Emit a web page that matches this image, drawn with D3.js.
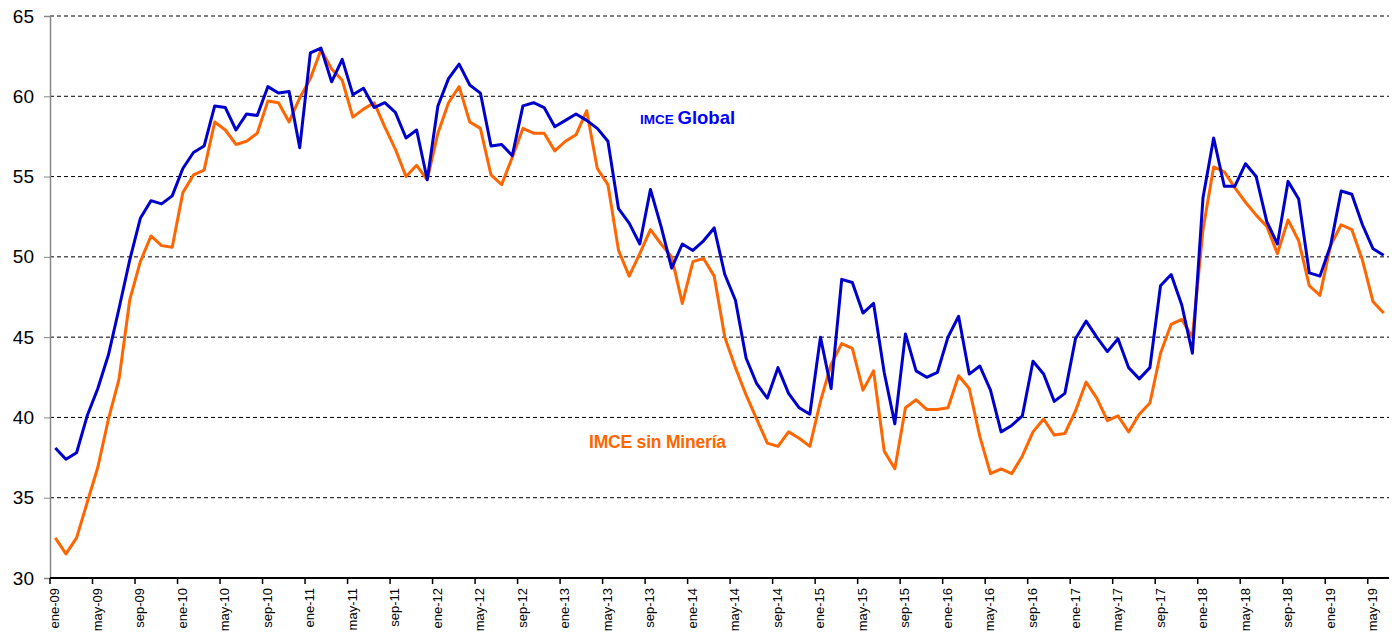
<!DOCTYPE html>
<html>
<head>
<meta charset="utf-8">
<script src="https://cdn.jsdelivr.net/npm/d3@7"></script>
<style>
  body { margin: 0; background: #fff; }
  svg { display: block; font-family: Arial, "Liberation Sans", sans-serif; }
</style>
</head>
<body>
<svg id="chart" width="1396" height="638"></svg>
<script>
// ---- DATA (monthly, ene-09 .. jun-19) ----
const MONTHS = ["ene", "feb", "mar", "abr", "may", "jun", "jul", "ago", "sep", "oct", "nov", "dic"];
const START_YEAR = 2009;
const N_POINTS = 126;

const imceGlobal = [
  38.1, 37.4, 37.8, 40.1, 41.8, 43.9, 46.8, 49.8, 52.4, 53.5, 53.3, 53.8,
  55.5, 56.5, 56.9, 59.4, 59.3, 57.9, 58.9, 58.8, 60.6, 60.2, 60.3, 56.8,
  62.7, 63.0, 60.9, 62.3, 60.1, 60.5, 59.3, 59.6, 59.0, 57.4, 57.9, 54.8,
  59.4, 61.1, 62.0, 60.7, 60.2, 56.9, 57.0, 56.3, 59.4, 59.6, 59.3, 58.1,
  58.5, 58.9, 58.5, 58.0, 57.2, 53.0, 52.1, 50.8, 54.2, 51.9, 49.3, 50.8,
  50.4, 51.0, 51.8, 48.9, 47.3, 43.7, 42.1, 41.2, 43.1, 41.5, 40.6, 40.2,
  45.0, 41.8, 48.6, 48.4, 46.5, 47.1, 42.8, 39.6, 45.2, 42.9, 42.5, 42.8,
  45.0, 46.3, 42.7, 43.2, 41.7, 39.1, 39.5, 40.1, 43.5, 42.7, 41.0, 41.5,
  44.9, 46.0, 45.0, 44.1, 44.9, 43.1, 42.4, 43.1, 48.2, 48.9, 47.0, 44.0,
  53.7, 57.4, 54.4, 54.4, 55.8, 55.0, 52.2, 50.8, 54.7, 53.6, 49.0, 48.8,
  50.7, 54.1, 53.9, 52.0, 50.5, 50.1
];

const imceSinMineria = [
  32.5, 31.5, 32.5, 34.7, 36.9, 39.9, 42.4, 47.3, 49.7, 51.3, 50.7, 50.6,
  54.0, 55.1, 55.4, 58.4, 57.9, 57.0, 57.2, 57.7, 59.7, 59.6, 58.4, 59.9,
  61.1, 62.9, 61.7, 61.0, 58.7, 59.2, 59.6, 58.1, 56.7, 55.0, 55.7, 54.8,
  57.7, 59.6, 60.6, 58.4, 58.0, 55.1, 54.5, 56.2, 58.0, 57.7, 57.7, 56.6,
  57.2, 57.6, 59.1, 55.5, 54.5, 50.4, 48.8, 50.2, 51.7, 50.8, 50.0, 47.1,
  49.7, 49.9, 48.8, 45.0, 43.1, 41.4, 39.9, 38.4, 38.2, 39.1, 38.7, 38.2,
  41.0, 43.3, 44.6, 44.3, 41.7, 42.9, 37.9, 36.8, 40.6, 41.1, 40.5, 40.5,
  40.6, 42.6, 41.8, 38.8, 36.5, 36.8, 36.5, 37.6, 39.1, 39.9, 38.9, 39.0,
  40.4, 42.2, 41.2, 39.8, 40.1, 39.1, 40.2, 40.9, 44.0, 45.8, 46.1, 45.0,
  51.7, 55.6, 55.3, 54.3, 53.4, 52.6, 51.9, 50.2, 52.3, 51.0, 48.2, 47.6,
  50.7, 52.0, 51.7, 49.8, 47.2, 46.5
];

const yTicks = [30, 35, 40, 45, 50, 55, 60, 65];

const labels = d3.range(N_POINTS).map(i => {
  const y = START_YEAR + Math.floor(i / 12);
  return `${MONTHS[i % 12]}-${String(y).slice(2)}`;
});

// ---- LAYOUT ----
const svg = d3.select("#chart");
const margin = { top: 16, right: 7, bottom: 60, left: 50 };
const width = 1396, height = 638;
const innerW = width - margin.left - margin.right;
const innerH = height - margin.top - margin.bottom;

const g = svg.append("g").attr("transform", `translate(${margin.left},${margin.top})`);

const x = d3.scaleBand().domain(labels).range([0, innerW]).padding(0);
const y = d3.scaleLinear().domain([30, 65]).range([innerH, 0]);
const cx = d => x(d) + x.bandwidth() / 2;

// gridlines
g.append("g")
  .selectAll("line")
  .data(yTicks.filter(t => t > 30))
  .join("line")
  .attr("x1", 0).attr("x2", innerW)
  .attr("y1", d => y(d)).attr("y2", d => y(d))
  .attr("stroke", "#000")
  .attr("stroke-width", 1)
  .attr("stroke-dasharray", "4,3");

// y axis
const yAxis = g.append("g")
  .call(d3.axisLeft(y).tickValues(yTicks).tickSize(6).tickPadding(10));
yAxis.select(".domain").attr("stroke", "#888").attr("stroke-width", 1.5);
yAxis.selectAll(".tick line").attr("stroke", "#888");
yAxis.selectAll("text")
  .attr("font-size", 19)
  .attr("font-family", "Arial, 'Liberation Sans', sans-serif")
  .attr("fill", "#000");

// x axis: ticks at category boundaries, every 4 months
const tickIdx = d3.range(0, N_POINTS, 4);
const xAxisG = g.append("g").attr("transform", `translate(0,${innerH})`);
xAxisG.append("line")
  .attr("x1", 0).attr("x2", innerW)
  .attr("stroke", "#000").attr("stroke-width", 2);
xAxisG.selectAll("line.tk")
  .data(tickIdx)
  .join("line")
  .attr("class", "tk")
  .attr("x1", i => x(labels[i])).attr("x2", i => x(labels[i]))
  .attr("y1", 0).attr("y2", 6)
  .attr("stroke", "#000").attr("stroke-width", 1.5);
xAxisG.selectAll("text")
  .data(tickIdx)
  .join("text")
  .attr("transform", i => `translate(${cx(labels[i]) + 4},10) rotate(-90)`)
  .attr("text-anchor", "end")
  .attr("font-size", 13)
  .attr("fill", "#000")
  .text(i => labels[i]);

// lines
const line = d3.line()
  .x((d, i) => cx(labels[i]))
  .y(d => y(d));

g.append("path")
  .datum(imceSinMineria)
  .attr("fill", "none")
  .attr("stroke", "#FF6600")
  .attr("stroke-width", 3)
  .attr("stroke-linejoin", "round")
  .attr("d", line);

g.append("path")
  .datum(imceGlobal)
  .attr("fill", "none")
  .attr("stroke", "#0000CC")
  .attr("stroke-width", 3)
  .attr("stroke-linejoin", "round")
  .attr("d", line);

// series labels
const globalLbl = svg.append("text")
  .attr("x", 640).attr("y", 124)
  .attr("fill", "#0000FF")
  .attr("font-weight", "bold");
globalLbl.append("tspan").attr("font-size", 13.5).text("IMCE ");
globalLbl.append("tspan").attr("font-size", 18.5).text("Global");

svg.append("text")
  .attr("x", 589).attr("y", 448)
  .attr("fill", "#FF6600")
  .attr("font-weight", "bold")
  .attr("font-size", 17.5)
  .attr("letter-spacing", -0.2)
  .text("IMCE sin Minería");
</script>
</body>
</html>
